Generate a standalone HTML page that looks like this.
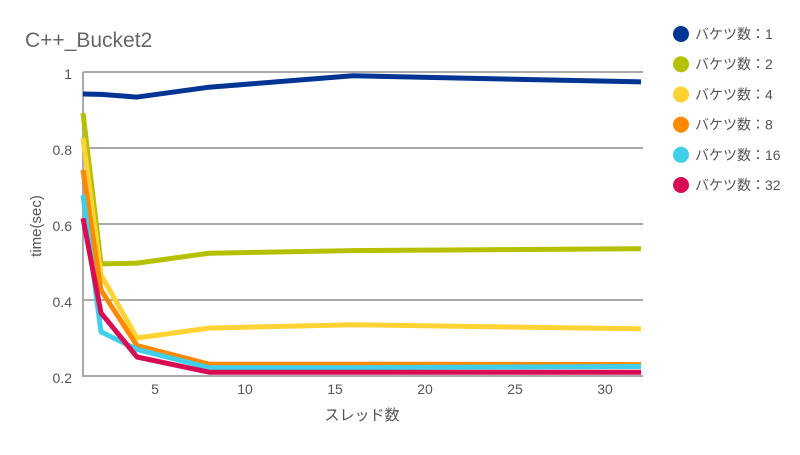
<!DOCTYPE html>
<html><head><meta charset="utf-8">
<style>
body{margin:0;background:#fff;width:800px;height:450px;overflow:hidden;font-family:"Liberation Sans","Noto Sans CJK JP",sans-serif;}
</style></head>
<body>
<svg id="chart" width="800" height="450" xmlns="http://www.w3.org/2000/svg" font-family="Liberation Sans, Noto Sans CJK JP, sans-serif">
<text x="25" y="47" font-size="21" fill="#666">C++_Bucket2</text>
<g id="grid"></g>
<g id="series"></g>
<g id="legend"></g>
<text x="362" y="420" font-size="15" fill="#555" text-anchor="middle">スレッド数</text>
<text transform="translate(41,226) rotate(-90)" font-size="15" fill="#555" text-anchor="middle">time(sec)</text>
</svg>
<script>
const threads=[1,2,4,8,16,32];
const names=["バケツ数：1","バケツ数：2","バケツ数：4","バケツ数：8","バケツ数：16","バケツ数：32"];
const colors=["#013493","#b4c000","#fed333","#fd8900","#40cfe9","#d80c55"];
const s1=[0.942,0.941,0.934,0.96,0.99,0.974];
const s2=[0.892,0.495,0.497,0.523,0.53,0.535];
const s4=[0.826,0.466,0.30,0.326,0.335,0.324];
const s8=[0.742,0.426,0.28,0.231,0.231,0.23];
const s16=[0.676,0.316,0.27,0.222,0.222,0.225];
const s32=[0.615,0.366,0.25,0.21,0.21,0.21];
const yTicks=[0.2,0.4,0.6,0.8,1];
const yTickLabels=["0.2","0.4","0.6","0.8","1"];
const xTicks=[5,10,15,20,25,30];
const NS="http://www.w3.org/2000/svg";
const X=v=>83+(v-1)*18;
const Y=v=>72+(1-v)*380;
const grid=document.getElementById('grid');
function mk(tag,attrs,parent){const e=document.createElementNS(NS,tag);for(const k in attrs)e.setAttribute(k,attrs[k]);parent.appendChild(e);return e;}
yTicks.forEach((t,i)=>{
 const l=mk('line',{x1:83,x2:643,y1:Y(t),y2:Y(t),stroke:'#aaa','stroke-width':2},grid);
 
 
 const tx=mk('text',{x:72,y:Y(t)+7,'font-size':14,fill:'#555','text-anchor':'end'},grid);
 tx.textContent=yTickLabels[i];
 
 
});
const ax=mk('line',{x1:83,x2:83,y1:72,y2:377,stroke:'#aaa','stroke-width':2},grid);


xTicks.forEach(t=>{
 const tx=mk('text',{x:X(t),y:394,'font-size':14,fill:'#555','text-anchor':'middle'},grid);
 tx.textContent=t;
 
 
});
const all=[s1,s2,s4,s8,s16,s32];
const sg=document.getElementById('series');
const lg=document.getElementById('legend');
all.forEach((s,i)=>{
 const p=mk('polyline',{points:s.map((v,j)=>X(threads[j])+','+Y(v)).join(' '),fill:'none',stroke:colors[i],'stroke-width':5,'stroke-linejoin':'round'},sg);
 
 
 const g=mk('g',{},lg);
 
 
 mk('circle',{cx:681,cy:34+i*30.2,r:8,fill:colors[i]},g);
 const t=mk('text',{x:695,y:39+i*30.2,'font-size':14,fill:'#555'},g);
 t.textContent=names[i];
});
</script>
</body></html>
